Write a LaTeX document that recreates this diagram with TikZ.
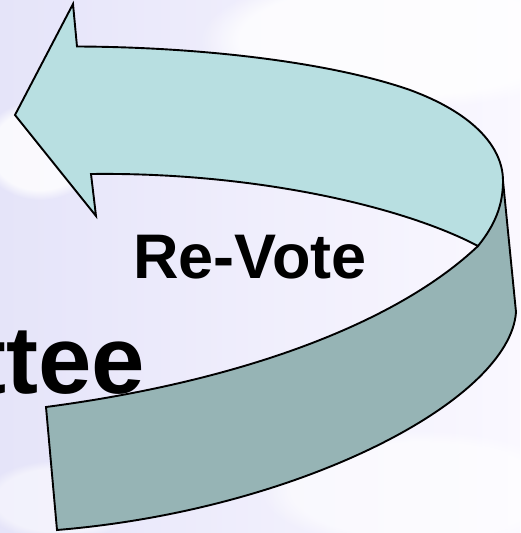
\documentclass[tikz,border=0pt]{standalone}
\usepackage{fontspec}
\setmainfont{Liberation Sans}
\usetikzlibrary{fadings}
\definecolor{bgL}{RGB}{229,228,249}
\definecolor{bgR}{RGB}{250,248,255}
\definecolor{arrowTop}{RGB}{184,223,225}
\definecolor{arrowLow}{RGB}{150,180,181}
\tikzset{
  ribbon/.style={draw=black, line width=1.9pt, line join=miter},
  labeltext/.style={inner sep=0pt, anchor=base west, font=\bfseries},
  cloud blob/.style={fill=white, path fading=circle with fuzzy edge 20 percent}
}
\begin{document}
\begin{tikzpicture}[x=1pt, y=-1pt]
\useasboundingbox (0,0) rectangle (520,533);
\clip (0,0) rectangle (520,533);
% background
\shade[left color=bgL, right color=bgR] (0,0) rectangle (520,533);
\fill[cloud blob, opacity=0.8] (40,150) ellipse (60 and 50);
\fill[cloud blob, opacity=0.8] (400,40) ellipse (200 and 70);
\fill[cloud blob, opacity=0.6] (420,490) ellipse (160 and 60);
\fill[cloud blob, opacity=0.5] (60,500) ellipse (80 and 40);
% cut-off title text
\node[labeltext, anchor=base east] (title) at (145,393) {\fontsize{96}{96}\selectfont ttee};
% lower (dark) band
\fill[arrowLow] (478,246) .. controls (400,320) and (250,380) .. (46,407)
  -- (57,530) .. controls (300,510) and (510,400) .. (516,312)
  -- (503,181) .. controls (503,205) and (495,225) .. (478,246) -- cycle;
\draw[ribbon] (478,246) .. controls (400,320) and (250,380) .. (46,407)
  -- (57,530) .. controls (300,510) and (510,400) .. (516,312)
  -- (503,181);
% upper (light) arrow
\draw[ribbon, fill=arrowTop] (73,4) -- (77,46.5)
  .. controls (200,47) and (330,62) .. (410,90)
  .. controls (470,112) and (503,145) .. (503,181)
  .. controls (503,205) and (495,225) .. (478,246)
  .. controls (400,205) and (250,172) .. (91,174)
  -- (96,216) -- (15,115) -- cycle;
% label
\node[labeltext] (revote) at (133,278) {\fontsize{63}{63}\selectfont Re-Vote};
\end{tikzpicture}
\end{document}
